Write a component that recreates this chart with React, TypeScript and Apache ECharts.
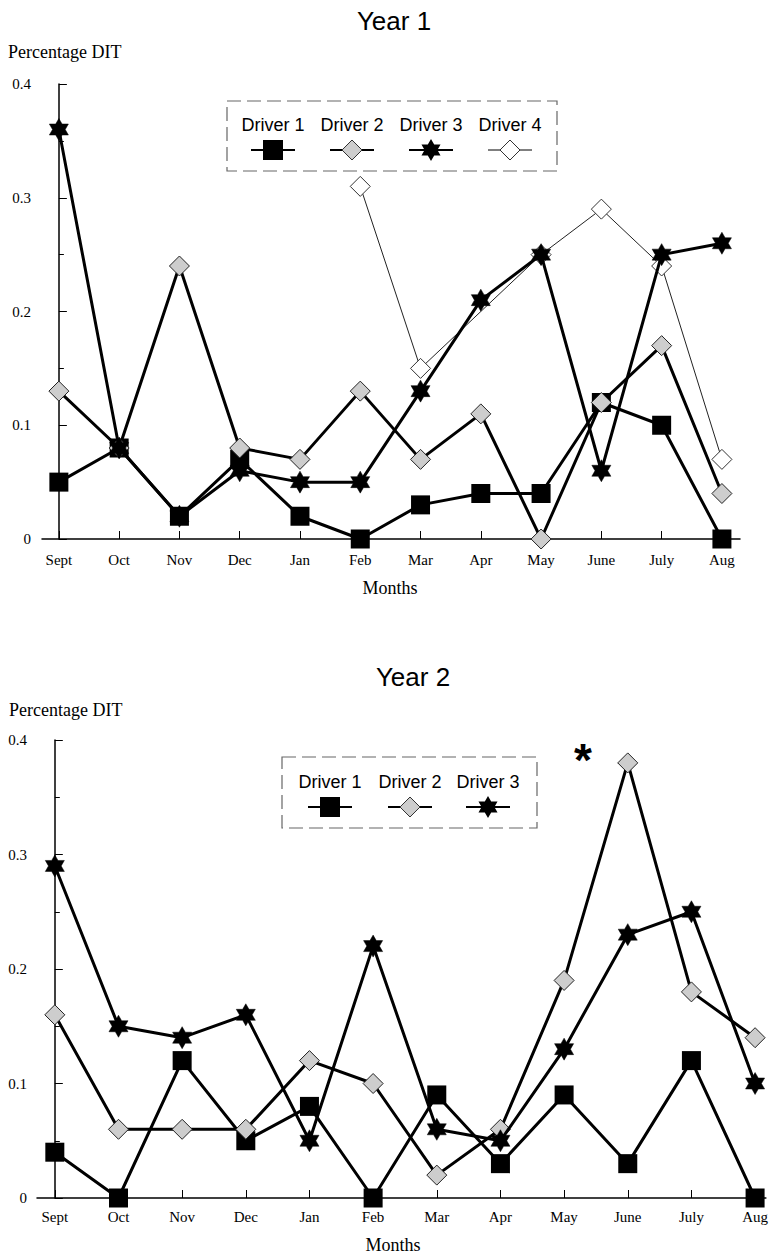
import React, { useEffect, useRef } from "react";
import * as echarts from "echarts";

const months = ["Sept", "Oct", "Nov", "Dec", "Jan", "Feb", "Mar", "Apr", "May", "June", "July", "Aug"];
const driverNames1 = ["Driver 1", "Driver 2", "Driver 3", "Driver 4"];
const driverNames2 = ["Driver 1", "Driver 2", "Driver 3"];

const y1Driver1 = [0.05, 0.08, 0.02, 0.07, 0.02, 0.0, 0.03, 0.04, 0.04, 0.12, 0.1, 0.0];
const y1Driver2 = [0.13, 0.08, 0.24, 0.08, 0.07, 0.13, 0.07, 0.11, 0.0, 0.12, 0.17, 0.04];
const y1Driver3 = [0.36, 0.08, 0.02, 0.06, 0.05, 0.05, 0.13, 0.21, 0.25, 0.06, 0.25, 0.26];
const y1Driver4 = [null, null, null, null, null, 0.31, 0.15, null, 0.25, 0.29, 0.24, 0.07];

const y2Driver1 = [0.04, 0.0, 0.12, 0.05, 0.08, 0.0, 0.09, 0.03, 0.09, 0.03, 0.12, 0.0];
const y2Driver2 = [0.16, 0.06, 0.06, 0.06, 0.12, 0.1, 0.02, 0.06, 0.19, 0.38, 0.18, 0.14];
const y2Driver3 = [0.29, 0.15, 0.14, 0.16, 0.05, 0.22, 0.06, 0.05, 0.13, 0.23, 0.25, 0.1];

const yMin = 0;
const yMax = 0.4;
const yStep = 0.1;

const SERIF = "'Liberation Serif', 'Times New Roman', serif";
const SANS = "'Liberation Sans', Arial, sans-serif";
const STIPPLE = "#cdcdcd";
const HEX = "path://M0,-10L2.887,-5L8.66,-5L5.774,0L8.66,5L2.887,5L0,10L-2.887,5L-8.66,5L-5.774,0L-8.66,-5L-2.887,-5Z";

type Kind = "square" | "grayDiamond" | "star" | "whiteDiamond";
const kinds: Kind[] = ["square", "grayDiamond", "star", "whiteDiamond"];

function makeSeries(name: string, values: (number | null)[], kind: Kind, axis: number) {
  const data = values
    .map((v, i) => (v == null ? null : [i, v]))
    .filter((d) => d !== null);
  const base: any = {
    type: "line",
    name,
    xAxisIndex: axis,
    yAxisIndex: axis,
    data,
    silent: true,
    symbolKeepAspect: true,
    lineStyle: { color: "#000", width: 3 },
  };
  if (kind === "square") {
    return { ...base, z: 3, symbol: "rect", symbolSize: 19, itemStyle: { color: "#000", borderColor: "#000", borderWidth: 0 } };
  }
  if (kind === "grayDiamond") {
    return { ...base, z: 4, symbol: "diamond", symbolSize: 20, itemStyle: { color: STIPPLE, borderColor: "#222", borderWidth: 1 } };
  }
  if (kind === "star") {
    return { ...base, z: 5, symbol: HEX, symbolSize: 22, itemStyle: { color: "#000", borderColor: "#000", borderWidth: 0.5 } };
  }
  return {
    ...base,
    z: 2,
    symbol: "diamond",
    symbolSize: 20,
    itemStyle: { color: "#fff", borderColor: "#333", borderWidth: 1 },
    lineStyle: { color: "#222", width: 1 },
  };
}

function legendSymbol(kind: Kind, cx: number, cy: number): any[] {
  const els: any[] = [];
  const thin = kind === "whiteDiamond";
  els.push({
    type: "line",
    shape: { x1: cx - 22, y1: cy, x2: cx + 22, y2: cy },
    style: { stroke: "#000", lineWidth: thin ? 1 : 2 },
  });
  if (kind === "square") {
    els.push({ type: "rect", shape: { x: cx - 10, y: cy - 10, width: 20, height: 20 }, style: { fill: "#000" } });
  } else if (kind === "star") {
    const pts: number[][] = [];
    for (let k = 0; k < 12; k++) {
      const r = k % 2 === 0 ? 11 : 6.4;
      const a = (-90 + k * 30) * (Math.PI / 180);
      pts.push([cx + r * Math.cos(a), cy + r * Math.sin(a)]);
    }
    els.push({ type: "polygon", shape: { points: pts }, style: { fill: "#000" } });
  } else {
    els.push({
      type: "polygon",
      shape: { points: [[cx, cy - 10], [cx + 10, cy], [cx, cy + 10], [cx - 10, cy]] },
      style: { fill: kind === "grayDiamond" ? STIPPLE : "#fff", stroke: "#333", lineWidth: 1 },
    });
  }
  return els;
}

function legendGraphic(names: string[], box: { x: number; y: number; w: number; h: number }, centers: number[], textY: number, symY: number): any[] {
  const els: any[] = [
    {
      type: "rect",
      shape: { x: box.x, y: box.y, width: box.w, height: box.h },
      style: { fill: "#fff", stroke: "#666", lineWidth: 1.2, lineDash: [14, 6] },
      z: 10,
    },
  ];
  names.forEach((n, i) => {
    els.push({
      type: "text",
      x: centers[i],
      y: textY,
      z: 11,
      style: { text: n, fontFamily: SANS, fontSize: 18, fill: "#000", align: "center", verticalAlign: "middle" },
    });
    legendSymbol(kinds[i], centers[i], symY).forEach((e) => els.push({ ...e, z: 11 }));
  });
  return els;
}

function textEl(text: string, x: number, y: number, size: number, family: string, align = "center", weight = "normal") {
  return {
    type: "text",
    x,
    y,
    z: 12,
    style: { text, fontFamily: family, fontSize: size, fontWeight: weight, fill: "#000", align, verticalAlign: "middle" },
  };
}

function xAxisCfg(gridIndex: number, min: number, max: number, margin: number) {
  const idx = months.map((_, i) => i);
  return {
    type: "value",
    gridIndex,
    min,
    max,
    axisLine: { show: true, onZero: false, lineStyle: { color: "#000", width: 1.5 } },
    axisTick: { show: true, inside: true, length: 8, customValues: idx, lineStyle: { color: "#000", width: 1 } },
    axisLabel: {
      customValues: idx,
      formatter: (v: number) => months[Math.round(v)] ?? "",
      fontFamily: SERIF,
      fontSize: 15,
      color: "#000",
      margin,
    },
    splitLine: { show: false },
  };
}

function yAxisCfg(gridIndex: number, margin: number) {
  return {
    type: "value",
    gridIndex,
    min: yMin,
    max: yMax,
    interval: yStep,
    axisLine: { show: true, lineStyle: { color: "#000", width: 1.5 } },
    axisTick: { show: true, inside: true, length: 8, lineStyle: { color: "#000", width: 1 } },
    minorTick: { show: true, splitNumber: 2, length: 5, lineStyle: { color: "#000", width: 1 } },
    axisLabel: {
      formatter: (v: number) => (v === 0 ? "0" : v.toFixed(1)),
      fontFamily: SERIF,
      fontSize: 15,
      color: "#000",
      margin,
    },
    splitLine: { show: false },
  };
}

export default function App() {
  const ref = useRef<HTMLDivElement>(null);
  useEffect(() => {
    if (!ref.current) return;
    const chart = echarts.init(ref.current, undefined, { renderer: "svg" });
    const option: any = {
      animation: false,
      backgroundColor: "#fff",
      grid: [
        { left: 42, top: 84, width: 698, height: 455 },
        { left: 37, top: 740, width: 734, height: 458 },
      ],
      xAxis: [xAxisCfg(0, -0.28, 11.3, 13), xAxisCfg(1, -0.28, 11.17, 11)],
      yAxis: [yAxisCfg(0, 11), yAxisCfg(1, 10)],
      series: [
        makeSeries("Driver 1", y1Driver1, "square", 0),
        makeSeries("Driver 2", y1Driver2, "grayDiamond", 0),
        makeSeries("Driver 3", y1Driver3, "star", 0),
        makeSeries("Driver 4", y1Driver4, "whiteDiamond", 0),
        makeSeries("Driver 1", y2Driver1, "square", 1),
        makeSeries("Driver 2", y2Driver2, "grayDiamond", 1),
        makeSeries("Driver 3", y2Driver3, "star", 1),
      ],
      graphic: [
        textEl("Year 1", 394, 21, 26, SANS),
        textEl("Percentage DIT", 8, 52, 18, SERIF, "left"),
        textEl("Months", 390, 588, 18, SERIF),
        textEl("Year 2", 413, 677, 26, SANS),
        textEl("Percentage DIT", 9, 710, 18, SERIF, "left"),
        textEl("Months", 393, 1245, 18, SERIF),
        textEl("*", 583, 760, 46, SANS, "center", "bold"),
        ...legendGraphic(driverNames1, { x: 227, y: 101, w: 330, h: 70 }, [273, 352, 431, 510], 125, 150),
        ...legendGraphic(driverNames2, { x: 282, y: 757, w: 255, h: 71 }, [330, 410, 488], 782, 807),
      ],
    };
    chart.setOption(option);
    return () => chart.dispose();
  }, []);
  return <div ref={ref} style={{ position: "absolute", left: 0, top: 0, width: 771, height: 1257 }} />;
}
